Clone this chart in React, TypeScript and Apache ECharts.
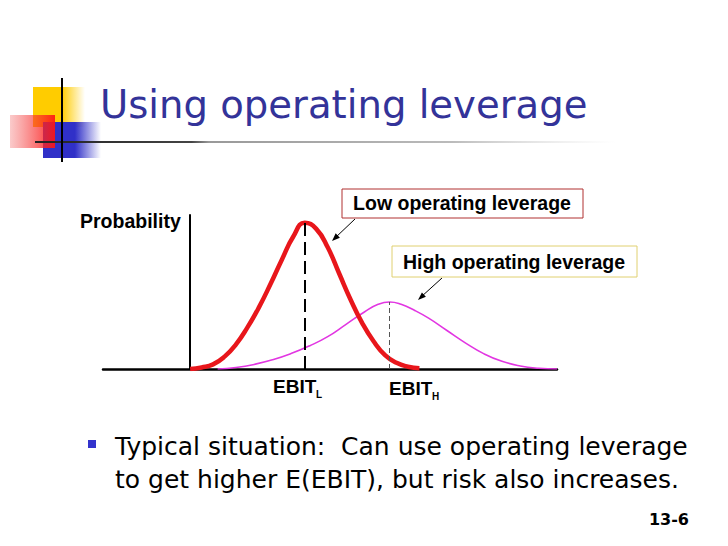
import React, { useEffect, useRef } from 'react';
import * as echarts from 'echarts';

// EBIT position (x) and probability height (y)
const lowX = [0, 2.5, 5, 7.5, 10, 12.5, 15, 17.5, 20, 22.5, 25, 27.5, 30, 32.5, 35, 37.5, 40, 42.5, 45, 47.5, 50];
const lowY = [0, 1, 3, 8, 16, 27, 40, 55, 71, 86, 95, 91, 79, 62, 45, 30, 18, 9, 4, 1.5, 0.5];
const highX = [6, 10, 14, 18, 22, 26, 30, 34, 38, 41, 43.5, 46, 49, 52, 56, 60, 64, 68, 72, 76, 80];
const highY = [0, 1, 3, 6, 10, 15, 21, 29, 37, 42, 43.5, 42, 38, 33, 25, 17, 10, 5, 2, 0.5, 0];
const lowPeak = [25, 95];
const highPeak = [43.5, 43.5];

const xRange = [-19, 80];
const yRange = [0, 100];

const title = 'Using operating leverage';
const yLabel = 'Probability';
const callouts = ['Low operating leverage', 'High operating leverage'];
const tickLabels = [
  ['EBIT', 'L'],
  ['EBIT', 'H'],
];
const bulletLines = [
  'Typical situation:  Can use operating leverage',
  'to get higher E(EBIT), but risk also increases.',
];
const slideNo = '13-6';

const SANS = '"DejaVu Sans", Verdana, sans-serif';
const ARIAL = '"Liberation Sans", Arial, sans-serif';

function hGrad(stops: [number, string][]) {
  return {
    type: 'linear',
    x: 0,
    y: 0,
    x2: 1,
    y2: 0,
    colorStops: stops.map(([offset, color]) => ({ offset, color })),
  };
}

export default function App() {
  const chartRef = useRef<HTMLDivElement>(null);

  useEffect(() => {
    if (!chartRef.current) return;
    const chart = echarts.init(chartRef.current, null, { renderer: 'svg' });

    const boldText = (x: number, y: number, text: string, size: number, align = 'left') => ({
      type: 'text',
      x,
      y,
      style: {
        text,
        fill: '#000',
        font: `bold ${size}px ${ARIAL}`,
        align,
        verticalAlign: 'middle',
      },
    });

    const option = {
      animation: false,
      backgroundColor: '#fff',
      grid: { left: 103, right: 171, top: 215, bottom: 177 },
      xAxis: {
        type: 'value',
        min: xRange[0],
        max: xRange[1],
        axisLine: { show: true, onZero: false, lineStyle: { color: '#000', width: 2.5 } },
        axisTick: { show: false },
        axisLabel: { show: false },
        splitLine: { show: false },
      },
      yAxis: {
        type: 'value',
        min: yRange[0],
        max: yRange[1],
        axisLine: { show: true, onZero: true, lineStyle: { color: '#000', width: 2 } },
        axisTick: { show: false },
        axisLabel: { show: false },
        splitLine: { show: false },
      },
      series: [
        {
          name: callouts[1],
          type: 'line',
          smooth: true,
          showSymbol: false,
          z: 2,
          data: highX.map((x, i) => [x, highY[i]]),
          lineStyle: { color: '#e236e2', width: 1.6 },
          markLine: {
            silent: true,
            symbol: ['none', 'none'],
            label: { show: false },
            lineStyle: { color: '#555', width: 1, type: [5, 3] },
            data: [[{ coord: [highPeak[0], 0] }, { coord: highPeak }]],
          },
        },
        {
          name: callouts[0],
          type: 'line',
          smooth: true,
          showSymbol: false,
          z: 3,
          data: lowX.map((x, i) => [x, lowY[i]]),
          lineStyle: { color: '#e8161b', width: 4.5 },
          markLine: {
            silent: true,
            symbol: ['none', 'none'],
            label: { show: false },
            lineStyle: { color: '#000', width: 2, type: [13, 6] },
            data: [[{ coord: [lowPeak[0], 0] }, { coord: lowPeak }]],
          },
        },
      ],
      graphic: [
        // logo
        { type: 'rect', shape: { x: 33, y: 87, width: 52, height: 40 }, style: { fill: hGrad([[0, '#ffcc00'], [0.55, '#ffcc00'], [1, 'rgba(255,204,0,0)']]) } },
        { type: 'rect', shape: { x: 43, y: 122, width: 58, height: 36 }, style: { fill: hGrad([[0, '#3030c8'], [0.55, '#3030c8'], [1, 'rgba(48,48,200,0)']]) } },
        { type: 'rect', shape: { x: 10, y: 115, width: 45, height: 33 }, style: { fill: hGrad([[0, 'rgba(240,80,80,0.3)'], [1, 'rgba(255,20,20,0.92)']]) } },
        { type: 'rect', shape: { x: 35, y: 141, width: 580, height: 2 }, style: { fill: hGrad([[0, '#222'], [0.27, '#444'], [0.3, '#999'], [0.72, '#bbb'], [1, 'rgba(220,220,220,0)']]) } },
        { type: 'line', shape: { x1: 62, y1: 78, x2: 62, y2: 162 }, style: { stroke: '#000', lineWidth: 2 } },
        // title
        {
          type: 'text',
          x: 100,
          y: 104,
          style: { text: title, fill: '#333399', font: `38.6px ${SANS}`, verticalAlign: 'middle' },
        },
        // axis label
        boldText(80, 221, yLabel, 19.5),
        // callout boxes
        { type: 'rect', shape: { x: 342, y: 189, width: 241, height: 29 }, style: { fill: '#fff', stroke: '#b03030', lineWidth: 1 } },
        boldText(462, 202.5, callouts[0], 19.5, 'center'),
        { type: 'rect', shape: { x: 392, y: 246, width: 245, height: 31 }, style: { fill: '#fff', stroke: '#e0d070', lineWidth: 1 } },
        boldText(514, 261.5, callouts[1], 19.5, 'center'),
        // arrows
        { type: 'line', shape: { x1: 355, y1: 219, x2: 335, y2: 238 }, style: { stroke: '#000', lineWidth: 1 } },
        { type: 'polygon', shape: { points: [[332, 241], [339.9, 237.7], [335.7, 233.3]] }, style: { fill: '#000' } },
        { type: 'line', shape: { x1: 442, y1: 278, x2: 421, y2: 297 }, style: { stroke: '#000', lineWidth: 1 } },
        { type: 'polygon', shape: { points: [[418, 300], [425.9, 296.8], [421.9, 292.4]] }, style: { fill: '#000' } },
        // EBIT labels
        boldText(273, 386.5, tickLabels[0][0], 19),
        boldText(316, 394.5, tickLabels[0][1], 10),
        boldText(389, 388.5, tickLabels[1][0], 19),
        boldText(432, 396.5, tickLabels[1][1], 10),
        // bullet
        { type: 'rect', shape: { x: 88, y: 440, width: 8, height: 8 }, style: { fill: '#3333cc' } },
        {
          type: 'text',
          x: 115,
          y: 446,
          style: { text: bulletLines[0], fill: '#000', font: `25px ${SANS}`, verticalAlign: 'middle' },
        },
        {
          type: 'text',
          x: 115,
          y: 479,
          style: { text: bulletLines[1], fill: '#000', font: `25px ${SANS}`, verticalAlign: 'middle' },
        },
        {
          type: 'text',
          x: 689,
          y: 519,
          style: { text: slideNo, fill: '#000', font: `bold 16px ${SANS}`, align: 'right', verticalAlign: 'middle' },
        },
      ],
    };

    chart.setOption(option);
    return () => chart.dispose();
  }, []);

  return (
    <div style={{ position: 'absolute', left: 0, top: 0, width: 728, height: 546, background: '#fff' }}>
      <div ref={chartRef} style={{ width: 728, height: 546 }} />
    </div>
  );
}
